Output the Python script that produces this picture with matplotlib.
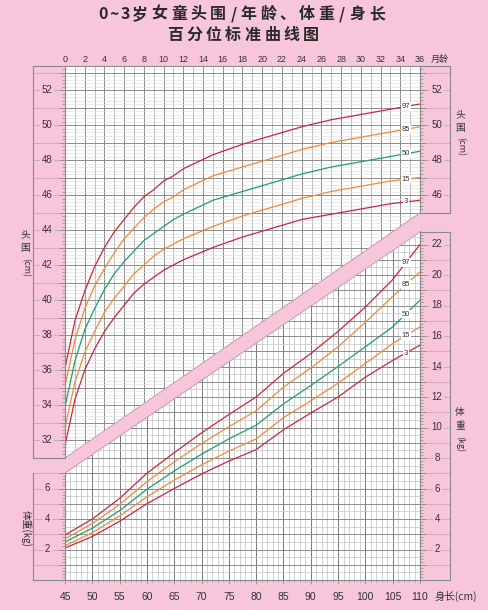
import numpy as np
import matplotlib
matplotlib.use('Agg')
import matplotlib.pyplot as plt
from matplotlib.patches import Polygon

plt.rcParams['font.family'] = ['Liberation Sans', 'DejaVu Sans']
CJK = ['Noto Sans CJK SC', 'DejaVu Sans']

# -- head circumference for age (girls), cm --
months = [0, 1, 2, 3, 4, 5, 6, 7, 8, 9, 10, 11, 12, 15, 18, 21, 24, 27, 30, 33, 36]
hc_p3 = [31.7, 34.3, 36.0, 37.2, 38.2, 39.0, 39.7, 40.4, 40.9, 41.3, 41.7, 42.0, 42.3, 43.0, 43.6, 44.1, 44.6, 44.9, 45.2, 45.5, 45.7]
hc_p15 = [32.7, 35.3, 37.0, 38.2, 39.3, 40.1, 40.8, 41.5, 42.0, 42.5, 42.9, 43.2, 43.5, 44.2, 44.8, 45.3, 45.8, 46.2, 46.5, 46.8, 47.0]
hc_p50 = [33.9, 36.5, 38.3, 39.5, 40.6, 41.5, 42.2, 42.8, 43.4, 43.8, 44.2, 44.6, 44.9, 45.7, 46.2, 46.7, 47.2, 47.6, 47.9, 48.2, 48.5]
hc_p85 = [35.1, 37.7, 39.5, 40.8, 41.8, 42.7, 43.5, 44.1, 44.7, 45.2, 45.6, 45.9, 46.3, 47.1, 47.6, 48.1, 48.6, 49.0, 49.3, 49.6, 49.9]
hc_p97 = [36.1, 38.8, 40.5, 41.9, 43.0, 43.9, 44.6, 45.3, 45.9, 46.3, 46.8, 47.1, 47.5, 48.3, 48.9, 49.4, 49.9, 50.3, 50.6, 50.9, 51.2]

# -- weight for length (girls), kg --
lengths = [45, 50, 55, 60, 65, 70, 75, 80, 85, 90, 95, 100, 105, 110]
wt_p3 = [2.1, 2.85, 3.85, 5.0, 6.0, 6.95, 7.8, 8.55, 9.85, 10.95, 12.0, 13.3, 14.4, 15.4]
wt_p15 = [2.25, 3.1, 4.2, 5.45, 6.55, 7.55, 8.45, 9.25, 10.65, 11.75, 12.9, 14.2, 15.5, 16.6]
wt_p50 = [2.5, 3.4, 4.55, 5.95, 7.15, 8.25, 9.25, 10.15, 11.55, 12.75, 14.0, 15.3, 16.6, 18.35]
wt_p85 = [2.7, 3.7, 4.95, 6.45, 7.75, 8.95, 10.05, 11.1, 12.65, 13.9, 15.3, 16.9, 18.6, 20.2]
wt_p97 = [2.95, 4.0, 5.35, 7.0, 8.35, 9.65, 10.85, 12.0, 13.55, 14.85, 16.3, 17.9, 19.7, 22.0]

pct_names = ['3', '15', '50', '85', '97']
hc_curves = [hc_p3, hc_p15, hc_p50, hc_p85, hc_p97]
wt_curves = [wt_p3, wt_p15, wt_p50, wt_p85, wt_p97]

month_ticks = list(range(0, 37, 2))
length_ticks = list(range(45, 111, 5))
hc_left_labels = list(range(32, 53, 2))
hc_right_labels = [46, 48, 50, 52]
wt_left_labels = [2, 4, 6]
wt_right_labels = list(range(2, 23, 2))

PINK = '#f8c6da'
FRAME = '#8a8a8a'
TXT = '#333333'
curve_colors = ['#c8283e', '#f08a3c', '#1f9e72', '#f08a3c', '#c8283e']

W, H = 489, 610
fig = plt.figure(figsize=(W / 100, H / 100), dpi=100, facecolor=PINK)


def px_rect(x0, y0, x1, y1):
    return [x0 / W, 1 - y1 / H, (x1 - x0) / W, (y1 - y0) / H]


# pixel scale of the printed chart
def hc_at(py):
    return 52 - (py - 90) / 17.5


def wt_at(py):
    return (580 - py) / 15.25


plot_rect = px_rect(65, 66, 420, 580)
ax_wt = fig.add_axes(plot_rect, facecolor='white')
ax_wt.set_xlim(45, 110)
ax_wt.set_ylim(0, wt_at(66))
ax_hc = fig.add_axes(plot_rect, facecolor='none')
ax_hc.set_xlim(0, 36)
ax_hc.set_ylim(hc_at(580), hc_at(66))

# diagonal band (axes fractions)
yu0, yu1 = (580 - 458) / 514, (580 - 213) / 514
yl0, yl1 = (580 - 473) / 514, (580 - 232) / 514
upper_clip = Polygon([(0, yu0), (1, yu1), (1, 1), (0, 1)], closed=True, transform=ax_hc.transAxes)
lower_clip = Polygon([(0, 0), (1, 0), (1, yl1), (0, yl0)], closed=True, transform=ax_wt.transAxes)


def vgrid(ax, xs, color, lw, clip):
    lc = ax.vlines(xs, 0, 1, transform=ax.get_xaxis_transform(), colors=color, linewidths=lw, zorder=1)
    lc.set_clip_path(clip)


def hgrid(ax, ys, color, lw, clip):
    lc = ax.hlines(ys, 0, 1, transform=ax.get_yaxis_transform(), colors=color, linewidths=lw, zorder=1)
    lc.set_clip_path(clip)


# head circumference grid
vgrid(ax_hc, [m for m in range(1, 36) if m % 2], '#a9a9a9', 0.55, upper_clip)
vgrid(ax_hc, [m for m in range(2, 36, 2)], '#858585', 0.7, upper_clip)
hc_fine = [v for v in np.arange(24.2, 53.4, 0.2) if abs(v - round(v)) > 0.05]
hgrid(ax_hc, hc_fine, '#dedede', 0.45, upper_clip)
hgrid(ax_hc, list(range(25, 54)), '#8c8c8c', 0.7, upper_clip)

# weight / length grid
vgrid(ax_wt, [x for x in range(46, 110) if x % 5], '#bdbdbd', 0.5, lower_clip)
vgrid(ax_wt, list(range(50, 110, 5)), '#7d7d7d', 0.75, lower_clip)
wt_fine = [v for v in np.arange(0.5, 33.6, 0.5) if abs(v - round(v)) > 0.05]
hgrid(ax_wt, wt_fine, '#c4c4c4', 0.5, lower_clip)
hgrid(ax_wt, list(range(1, 34)), '#8c8c8c', 0.7, lower_clip)

band = Polygon([(-0.004, yl0 - 0.003), (1.004, yl1 + 0.003), (1.004, yu1 + 0.003), (-0.004, yu0 - 0.003)],
               closed=True, transform=ax_hc.transAxes, facecolor=PINK, edgecolor='none', zorder=3, clip_on=False)
ax_hc.add_patch(band)
ax_hc.plot([0, 1], [yu0, yu1], transform=ax_hc.transAxes, color='#c79aad', lw=0.7, zorder=3.5)
ax_hc.plot([0, 1], [yl0, yl1], transform=ax_hc.transAxes, color='#c79aad', lw=0.7, zorder=3.5)

# curves
for name, vals, col in zip(pct_names, hc_curves, curve_colors):
    ax_hc.plot(months, vals, color=col, lw=0.9, zorder=4)
    ax_hc.text(34.6, np.interp(34.6, months, vals), name, fontsize=5.5, color=TXT, ha='center', va='center',
               zorder=5, bbox=dict(fc='white', ec='none', pad=0.6))
for name, vals, col in zip(pct_names, wt_curves, curve_colors):
    ax_wt.plot(lengths, vals, color=col, lw=0.9, zorder=4)
    ax_wt.text(107.4, np.interp(107.4, lengths, vals), name, fontsize=5.5, color=TXT, ha='center', va='center',
               zorder=5, bbox=dict(fc='white', ec='none', pad=0.6))

# axes ticks
ax_hc.set_yticks([])
ax_hc.xaxis.set_ticks_position('top')
ax_hc.set_xticks(month_ticks)
ax_hc.tick_params(axis='x', length=0, pad=1.5, labelsize=6.5, labelcolor=TXT)
for s in ax_hc.spines.values():
    s.set_visible(False)

ax_wt.set_yticks([])
ax_wt.set_xticks(length_ticks)
ax_wt.set_xticks(list(range(45, 111)), minor=True)
ax_wt.tick_params(axis='x', which='major', direction='out', length=3, width=0.6, color=FRAME,
                  pad=5.5, labelsize=7.5, labelcolor=TXT)
ax_wt.tick_params(axis='x', which='minor', direction='out', length=1.5, width=0.5, color=FRAME)
for s in ax_wt.spines.values():
    s.set_color(FRAME)
    s.set_linewidth(0.8)


def side_column(rect, lo, hi, labels, tick_side, label_x, hide=()):
    c = fig.add_axes(rect, facecolor=PINK)
    c.set_xlim(0, 1)
    c.set_ylim(lo, hi)
    c.set_xticks([])
    whole = np.arange(np.ceil(lo), hi, 1.0)
    c.set_yticks(whole)
    c.set_yticks(np.arange(np.ceil(lo * 5) / 5, hi, 0.2), minor=True)
    c.yaxis.set_ticks_position(tick_side)
    c.tick_params(axis='y', which='major', direction='in', length=4, width=0.6, color=FRAME,
                  labelleft=False, labelright=False)
    c.tick_params(axis='y', which='minor', direction='in', length=2.5, width=0.5, color=FRAME)
    for s in c.spines.values():
        s.set_color(FRAME)
        s.set_linewidth(0.8)
    for s in hide:
        c.spines[s].set_visible(False)
    for v in whole:
        c.axhline(v, color='#c2a2b0', lw=0.5, zorder=0.5)
    for v in labels:
        c.text(label_x, v, str(v), transform=c.get_yaxis_transform(), ha='center', va='center',
               fontsize=7, color=TXT, bbox=dict(fc=PINK, ec='none', pad=1.2))
    return c


side_column(px_rect(33, 66, 65, 458), hc_at(458), hc_at(66), hc_left_labels, 'right', 0.45)
side_column(px_rect(33, 473, 65, 580), 0, wt_at(473), wt_left_labels, 'right', 0.45, hide=('top',))
side_column(px_rect(420, 66, 450, 213), hc_at(213), hc_at(66), hc_right_labels, 'left', 0.57)
side_column(px_rect(420, 232, 450, 580), 0, wt_at(232), wt_right_labels, 'left', 0.57)


def ftext(x, y, s, **kw):
    kw.setdefault('family', CJK)
    kw.setdefault('color', TXT)
    kw.setdefault('ha', 'center')
    kw.setdefault('va', 'center')
    fig.text(x / W, 1 - y / H, s, **kw)


# axis titles
ftext(440, 59, '月龄', fontsize=6.5)
ftext(456, 596, '身长(cm)', fontsize=7.5)
ftext(25, 234, '头', fontsize=7)
ftext(25, 248, '围', fontsize=7)
ftext(25, 268, '(cm)', fontsize=6.5, rotation=-90)
ftext(460, 114, '头', fontsize=7)
ftext(460, 128, '围', fontsize=7)
ftext(460, 147, '(cm)', fontsize=6.5, rotation=-90)
ftext(460, 412, '体', fontsize=7)
ftext(460, 426, '重', fontsize=7)
ftext(460, 444, '(kg)', fontsize=6.5, rotation=-90)
ftext(26, 528, '体重(kg)', fontsize=7, rotation=-90)


def spaced_title(text, y, xc, size):
    adv = [11 if ord(ch) < 128 else 19.5 for ch in text]
    x = xc - sum(adv) / 2
    for ch, a in zip(text, adv):
        ftext(x + a / 2, y, ch, fontsize=size, fontweight='bold', color='#2a2a2a')
        x += a


spaced_title('0~3岁女童头围/年龄、体重/身长', 14, 242, 11.5)
spaced_title('百分位标准曲线图', 35, 243, 11.5)

fig.savefig('out.png', dpi=100, facecolor=PINK)
